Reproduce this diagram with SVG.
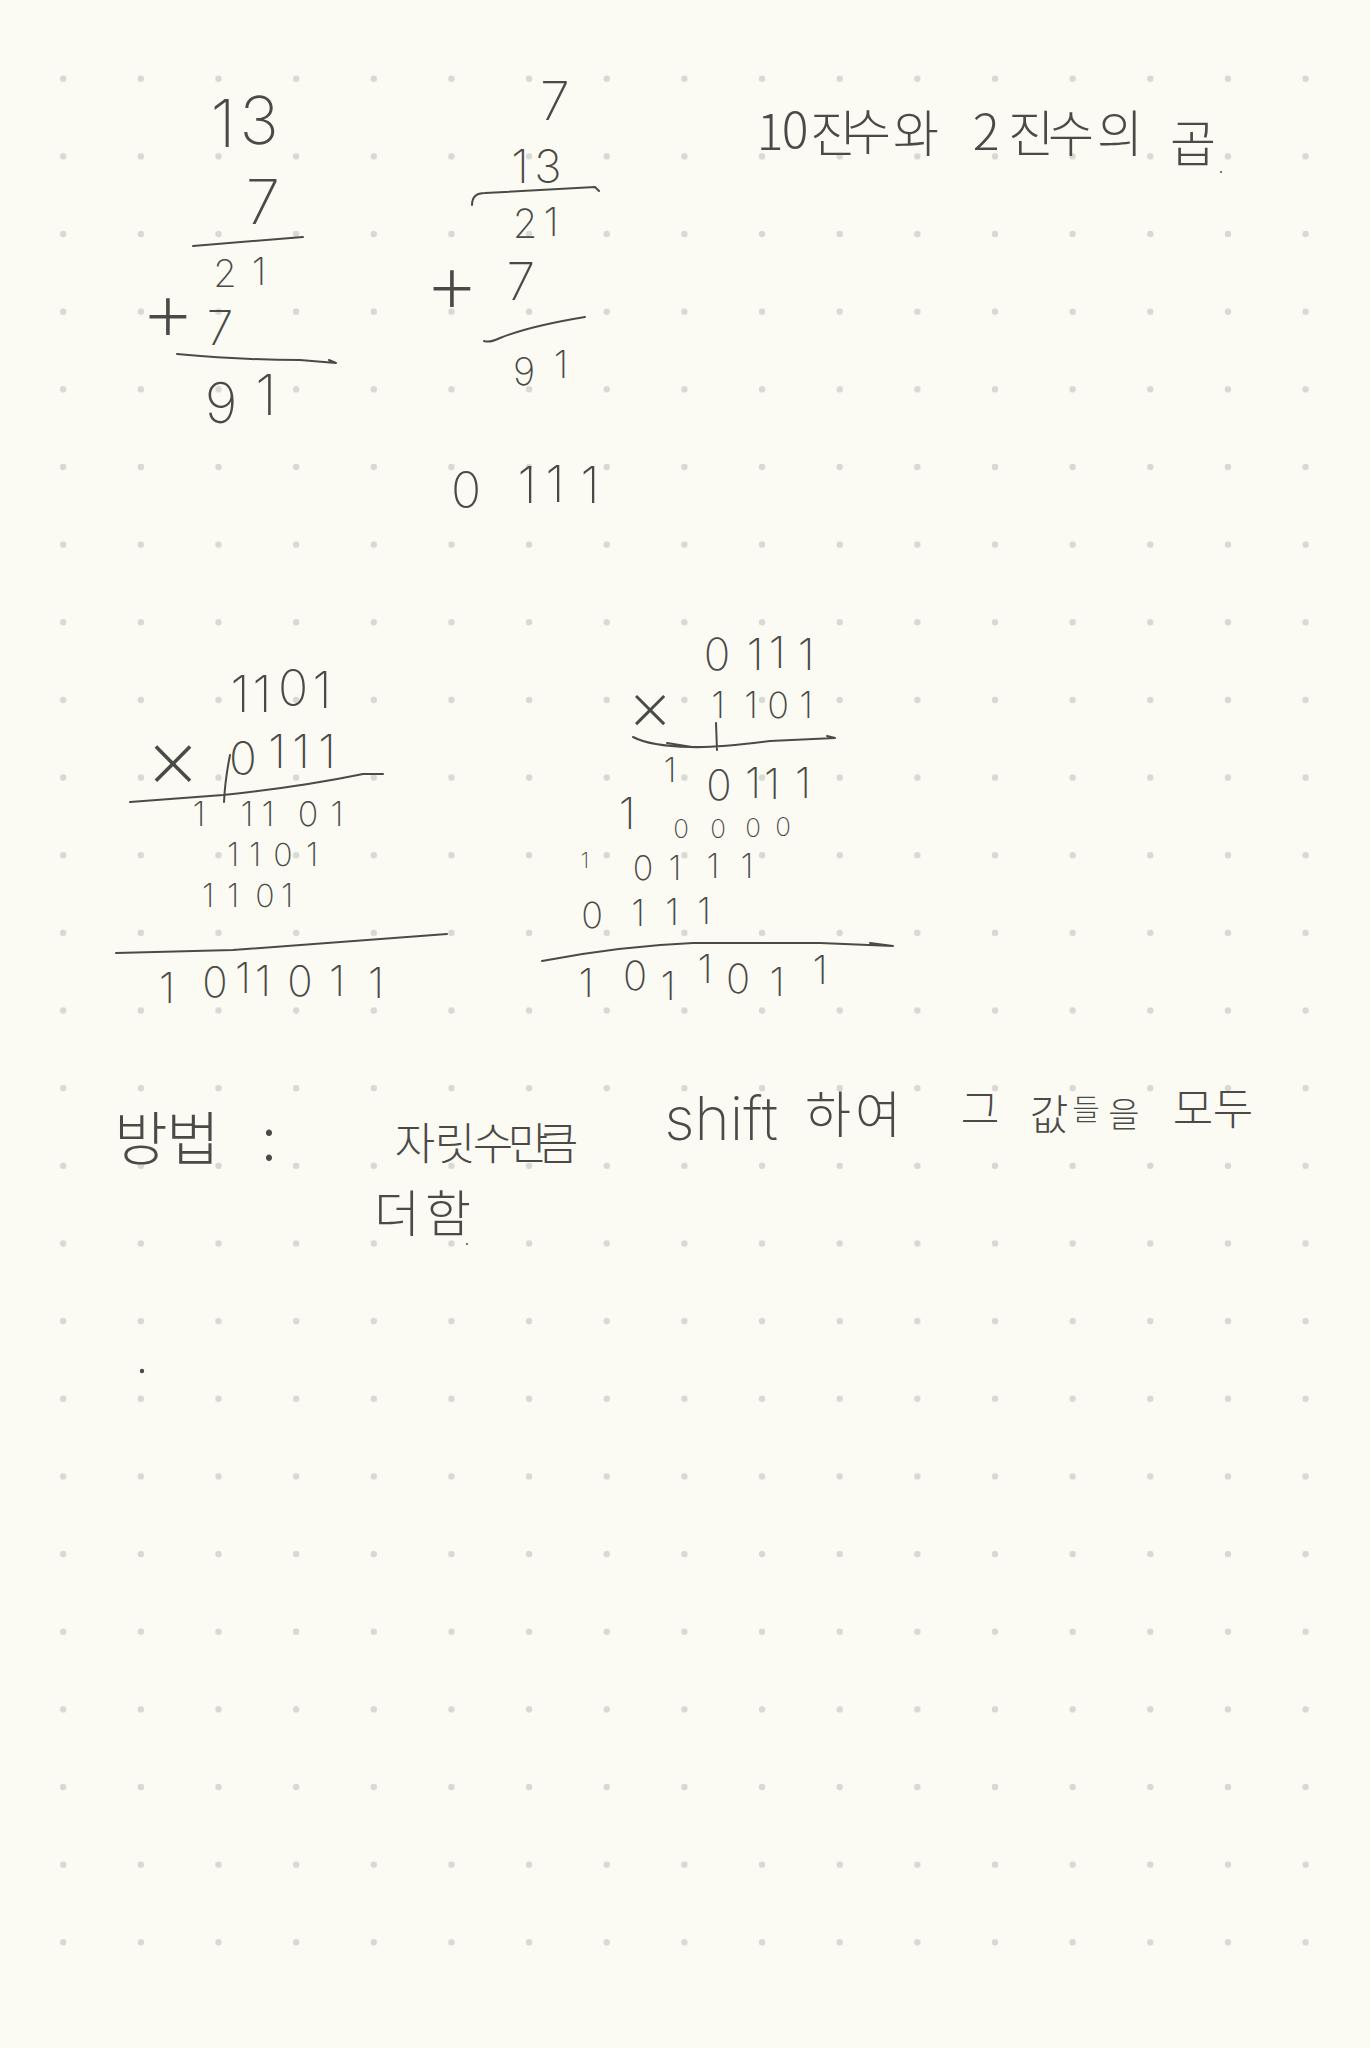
<svg xmlns="http://www.w3.org/2000/svg" width="1370" height="2048" viewBox="0 0 1370 2048">
<style>
text{fill:#4a4a48;text-anchor:middle}
.d{font-family:"Inter","Roboto","Liberation Sans",sans-serif;font-weight:200}
.k{font-family:"Noto Sans CJK KR","Noto Sans",sans-serif;font-weight:200}
.l{fill:none;stroke:#4a4a48;stroke-width:2;stroke-linecap:round;stroke-linejoin:round}
</style>
<defs>
<pattern id="dots" x="24.4" y="39.9" width="77.65" height="77.65" patternUnits="userSpaceOnUse"><circle cx="38.8" cy="38.8" r="3.2" fill="#d9d9d3"/></pattern>
</defs>
<rect width="1370" height="2048" fill="#fbfbf4"/>
<rect x="24" y="40" width="1320" height="1940" fill="url(#dots)"/>

<g id="decimal-left">
<text class="d" font-size="66" x="223 259" y="147 144">13</text>
<text class="d" font-size="62" x="263" y="224">7</text>
<path class="l" d="M193 246L303 237"/>
<text class="d" font-size="38" x="225 259" y="287 285">21</text>
<text class="d" font-size="85" x="168" y="341">+</text>
<text class="d" font-size="48" x="220" y="345">7</text>
<path class="l" d="M177 354Q243 360 300 360L336 363L329 360"/>
<text class="d" font-size="56" x="221 266" y="423 415">91</text>
</g>

<g id="decimal-right">
<text class="d" font-size="54" x="555" y="120">7</text>
<text class="d" font-size="46" x="520 548" y="183 183">13</text>
<path class="l" d="M472 205Q472 193 485 193L595 187L599 191"/>
<text class="d" font-size="40" x="525 551" y="238 236">21</text>
<text class="d" font-size="85" x="452" y="313">+</text>
<text class="d" font-size="52" x="521" y="300">7</text>
<path class="l" d="M484 341Q490 343 500 338Q530 326 585 317"/>
<text class="d" font-size="38" x="524 561" y="385 378">91</text>
<text class="d" font-size="50" x="466 527 555 590" y="508 503 502 503">0111</text>
</g>

<g id="title">
<text class="k" font-size="50" x="770 795 833 868 916 950 986 1031 1071 1120 1160 1193" y="150 148 152 150 152 150 150 152 152 152 152 162">10진수와 2진수의 곱</text>
<circle cx="1221" cy="172" r="1" fill="#4a4a48"/>
</g>

<g id="binary-left">
<text class="d" font-size="50" x="240 262 293 322" y="712 712 706 708">1101</text>
<text class="d" font-size="85" x="173" y="788">×</text>
<text class="d" font-size="46" x="243 277 301 327" y="775 768 768 768">0111</text>
<path class="l" d="M230 755Q225 780 224 802"/>
<path class="l" d="M130 802L223 795Q300 787 363 774L383 774"/>
<text class="d" font-size="34" x="199 247 268 308 337" y="826">11101</text>
<text class="d" font-size="32" x="233 255 283 312" y="866">1101</text>
<text class="d" font-size="32" x="208 233 265 287" y="907">1101</text>
<path class="l" d="M116 953L233 950L447 934"/>
<text class="d" font-size="42" x="167 215 243 263 300 337 376" y="1003 997 993 996 996 996 998">1011011</text>
</g>

<g id="binary-right">
<text class="d" font-size="44" x="717 755 777 806" y="670 670 668 670">0111</text>
<text class="d" font-size="70" x="650" y="730">×</text>
<text class="d" font-size="36" x="718 751 778 806" y="718">1101</text>
<path class="l" d="M633 737Q650 746 690 747Q717 748 770 741L835 738L827 736M667 743L692 747M716 723L717 750"/>
<text class="d" font-size="34" x="670" y="782">1</text>
<text class="d" font-size="42" x="719 753 772 803" y="800 798 799 798">0111</text>
<text class="d" font-size="44" x="627" y="829">1</text>
<text class="d" font-size="26" x="681 718 753 783" y="838 838 837 836">0000</text>
<text class="d" font-size="22" x="585" y="868">1</text>
<text class="d" font-size="34" x="643 675 713 747" y="880 880 878 878">0111</text>
<text class="d" font-size="36" x="592 638 672 704" y="928 926 925 924">0111</text>
<path class="l" d="M542 961Q620 946 693 943L820 943L893 946L870 943"/>
<text class="d" font-size="40" x="586 635 668 705 738 777 820" y="997 990 1000 983 993 996 984">1011011</text>
</g>

<g id="method">
<text class="k" font-size="58" x="141 193" y="1160">방법</text>
<text class="k" font-size="60" x="269" y="1160">:</text>
<text class="k" font-size="44" x="415 455 493 528 558" y="1160">자릿수만큼</text>
<text class="d" font-size="60" x="721" y="1140">shift</text>
<text class="k" font-size="50" x="828 878" y="1133">하여</text>
<text class="k" font-size="42" x="980" y="1125">그</text>
<text class="k" font-size="42" x="1049" y="1130">값</text>
<text class="k" font-size="30" x="1086" y="1120">들</text>
<text class="k" font-size="34" x="1124" y="1127">을</text>
<text class="k" font-size="44" x="1193 1233" y="1125">모두</text>
<text class="k" font-size="50" x="397 448" y="1232">더함</text>
<circle cx="467" cy="1244" r="1" fill="#4a4a48"/>
<circle cx="142" cy="1371" r="2.2" fill="#4a4a48"/>
</g>
</svg>
